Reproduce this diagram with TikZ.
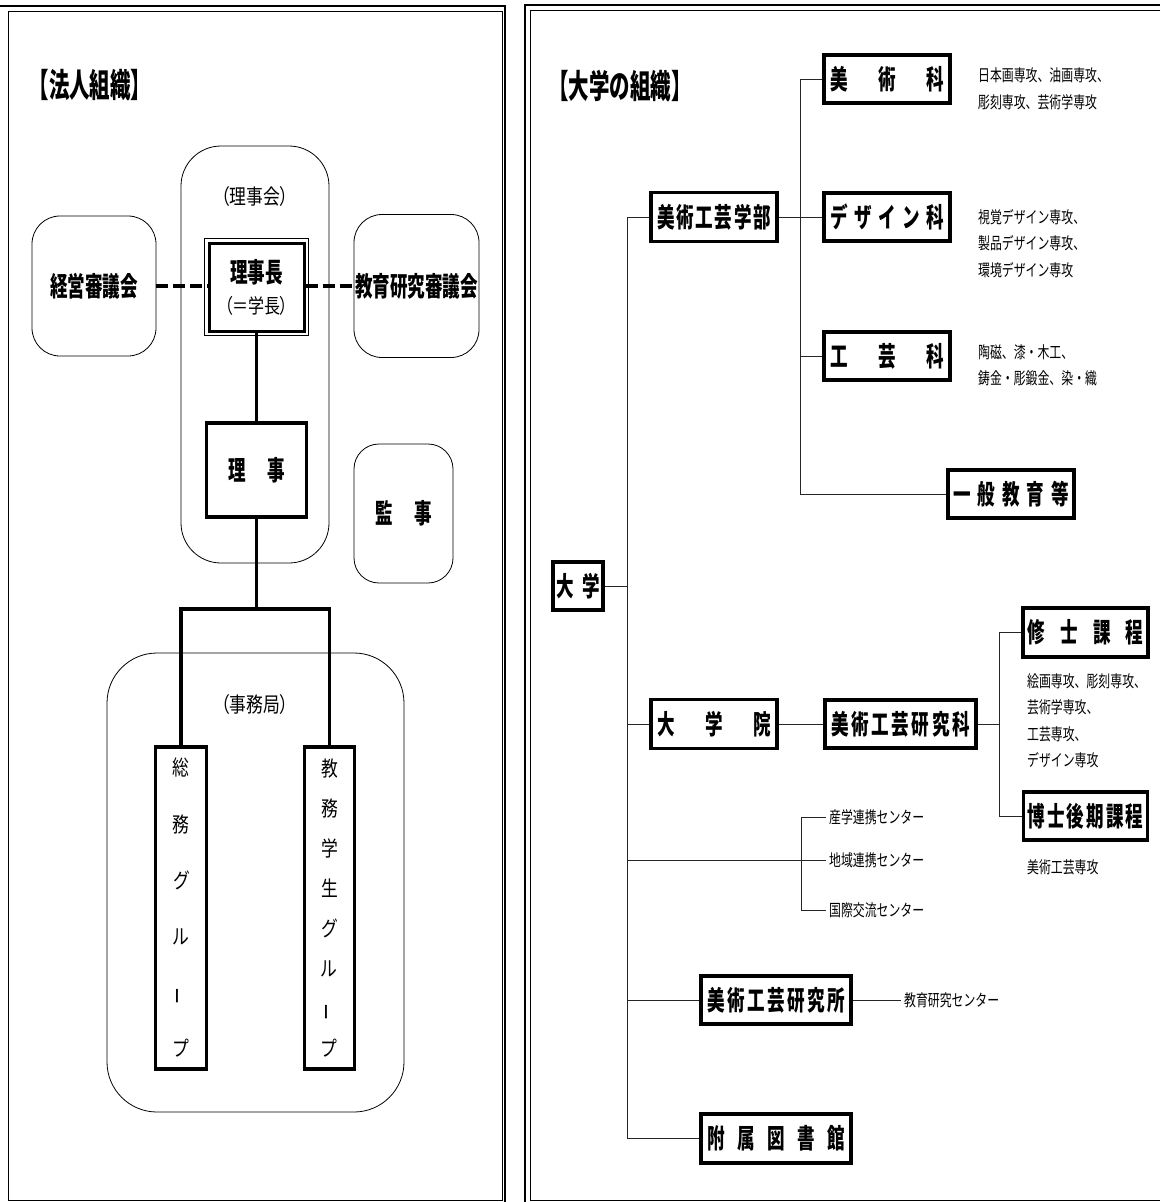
\documentclass[tikz,border=0pt]{standalone}
\usepackage{fontspec}
\setmainfont[FakeStretch=0.8,RawFeature=+palt]{Noto Sans CJK JP}
\newfontfamily\lblfont[FakeStretch=0.65]{Noto Sans CJK JP}
\newfontfamily\ttlfont[FakeStretch=0.62]{Noto Sans CJK JP}
\newfontfamily\notefont[FakeStretch=0.72]{Noto Sans CJK JP}
\usetikzlibrary{positioning,calc}

\newcommand{\sprd}[2]{\makebox[#1][s]{#2}}
\newcommand{\tatebo}{\rotatebox[origin=c]{90}{ー}}

\begin{document}
\begin{tikzpicture}[x=1pt,y=-1pt,
    every node/.style={inner sep=0pt},
    lbl/.style={font=\lblfont\bfseries\fontsize{27}{27}\selectfont},
    ttl/.style={font=\ttlfont\bfseries\fontsize{33}{33}\selectfont},
    txt/.style={font=\fontsize{21}{21}\selectfont},
    note/.style={font=\notefont\fontsize{16.5}{26.5}\selectfont, align=left, anchor=west, inner xsep=3pt},
    box/.style={draw, line width=3.2pt, lbl},
    rbox/.style={draw, line width=0.8pt, rounded corners=#1},
    link/.style={line width=1pt, black!85},
    bar/.style={line width=3.2pt},
    dashlink/.style={line width=3.6pt, dash pattern=on 12pt off 5pt}]
    \useasboundingbox (0,0) rectangle (1160,1202);

    % frames
    \draw[line width=2.2pt] (0,6) -- (505,6) -- (505,1202);
    \draw[line width=1pt] (8,11) rectangle (502,1200);
    \draw[line width=2.2pt] (525,1202) -- (525,5) -- (1160,5);
    \draw[line width=1pt] (1160,10) -- (530,10) -- (530,1200) -- (1160,1200);

    % titles
    \node[ttl] (ttlL) at (90,85) {【法人組織】};
    \node[ttl] (ttlR) at (620,86) {【大学の組織】};

    % left: board
    \node[rbox=40, minimum width=148, minimum height=417] (rijikai) at (255,354.5) {};
    \node[txt] (rijikaiL) at (255,197) {（理事会）};
    \node[rbox=28, minimum width=124, minimum height=140, lbl] (keiei) at (94,286) {経営審議会};
    \node[rbox=28, minimum width=125, minimum height=143, lbl] (kyoken) at (416.5,286) {教育研究審議会};
    \node[box, line width=3pt, minimum width=95, minimum height=88, align=center] (richo) at (256.5,287) {理事長\\[4pt]{\normalfont\fontsize{20}{20}\selectfont （＝学長）}};
    \draw[line width=0.8pt] ([xshift=-3pt,yshift=3pt]richo.north west) rectangle ([xshift=3pt,yshift=-3pt]richo.south east);
    \node[box, minimum width=100, minimum height=94] (riji) at (256.5,470) {\sprd{57pt}{理\hfill 事}};
    \node[rbox=25, minimum width=99, minimum height=139, lbl] (kanji) at (403.5,513.5) {\sprd{57pt}{監\hfill 事}};

    \draw[dashlink] (keiei.east) -- (keiei.east -| richo.west);
    \draw[dashlink] (richo.east |- kyoken.west) -- (kyoken.west);

    % left: secretariat
    \node[rbox=50, minimum width=297, minimum height=459] (jimu) at (255.5,882.5) {};
    \node[txt] (jimuL) at (255,705) {（事務局）};
    \node[box, minimum width=51, minimum height=322, font=\fontsize{21}{56.2}\selectfont, align=center] (somu) at (181,908) {総\\務\\グ\\ル\\\tatebo\\プ};
    \node[box, minimum width=50, minimum height=322, font=\fontsize{21}{40.1}\selectfont, align=center] (kyomu) at (329.5,908) {教\\務\\学\\生\\グ\\ル\\\tatebo\\プ};

    \coordinate (split) at (256.5,609);
    \draw[bar] (richo) -- (riji);
    \draw[bar] (riji) -- (split);
    \draw[bar] (somu) |- (split) -| (kyomu);

    % right: university
    \node[box, minimum width=50, minimum height=48] (daigaku) at (578,586) {\sprd{44pt}{大\hfill 学}};
    \node[box, minimum width=126, minimum height=49] (gakubu) at (714,217) {\sprd{114pt}{美\hfill 術\hfill 工\hfill 芸\hfill 学\hfill 部}};
    \node[box, minimum width=126, minimum height=48] (bijutsu) at (887,79) {\sprd{114pt}{美\hfill 術\hfill 科}};
    \node[box, minimum width=126, minimum height=48] (design) at (887,217) {\sprd{114pt}{デ\hfill ザ\hfill イ\hfill ン\hfill 科}};
    \node[box, minimum width=126, minimum height=48] (kogei) at (887,356) {\sprd{114pt}{工\hfill 芸\hfill 科}};
    \node[box, minimum width=126, minimum height=48] (ippan) at (1011,494) {\sprd{116pt}{一\hfill 般\hfill 教\hfill 育\hfill 等}};
    \node[box, minimum width=126, minimum height=49] (daigakuin) at (714,724) {\sprd{114pt}{大\hfill 学\hfill 院}};
    \node[box, minimum width=151, minimum height=48] (kenkyuka) at (900.5,724) {\sprd{139pt}{美\hfill 術\hfill 工\hfill 芸\hfill 研\hfill 究\hfill 科}};
    \node[box, minimum width=125, minimum height=49] (shushi) at (1085.5,632.5) {\sprd{116pt}{修\hfill 士\hfill 課\hfill 程}};
    \node[box, minimum width=124, minimum height=48] (hakushi) at (1085.5,816) {\sprd{116pt}{博\hfill 士\hfill 後\hfill 期\hfill 課\hfill 程}};
    \node[box, minimum width=150, minimum height=48] (kenkyujo) at (776,1000) {\sprd{138pt}{美\hfill 術\hfill 工\hfill 芸\hfill 研\hfill 究\hfill 所}};
    \node[box, minimum width=150, minimum height=49] (tosho) at (776,1138.5) {\sprd{138pt}{附\hfill 属\hfill 図\hfill 書\hfill 館}};

    % right: notes
    \node[note] (bijutsuN) at (975,89) {日本画専攻、油画専攻、\\彫刻専攻、芸術学専攻};
    \node[note] (designN) at (975,243.5) {視覚デザイン専攻、\\製品デザイン専攻、\\環境デザイン専攻};
    \node[note] (kogeiN) at (975,365.5) {陶磁、漆・木工、\\鋳金・彫鍛金、染・織};
    \node[note] (shushiN) at (1024,720.5) {絵画専攻、彫刻専攻、\\芸術学専攻、\\工芸専攻、\\デザイン専攻};
    \node[note] (hakushiN) at (1024,867) {美術工芸専攻};
    \node[note] (sangaku) at (826,817) {産学連携センター};
    \node[note] (chiiki) at (826,860) {地域連携センター};
    \node[note] (kokusai) at (826,910) {国際交流センター};
    \node[note] (kyoikuC) at (901,1000) {教育研究センター};

    % right: connectors
    \coordinate (trunk) at (627,0);
    \coordinate (fac) at (800,0);
    \coordinate (grad) at (999,0);
    \coordinate (ctr) at (801,0);
    \draw[link] (gakubu) -| (trunk |- tosho) -- (tosho);
    \draw[link] (daigaku) -- (daigaku -| trunk);
    \draw[link] (daigakuin) -- (daigakuin -| trunk);
    \draw[link] (kenkyujo) -- (kenkyujo -| trunk);
    \draw[link] (trunk |- chiiki) -- (chiiki);
    \draw[link] (bijutsu) -| (fac |- ippan) -- (ippan);
    \draw[link] (kogei) -- (kogei -| fac);
    \draw[link] (gakubu) -- (design);
    \draw[link] (daigakuin) -- (kenkyuka);
    \draw[link] (shushi) -| (grad |- hakushi) -- (hakushi);
    \draw[link] (kenkyuka) -- (kenkyuka -| grad);
    \draw[link] (sangaku) -| (ctr |- kokusai) -- (kokusai);
    \draw[link] (kenkyujo) -- (kyoikuC);
\end{tikzpicture}
\end{document}
